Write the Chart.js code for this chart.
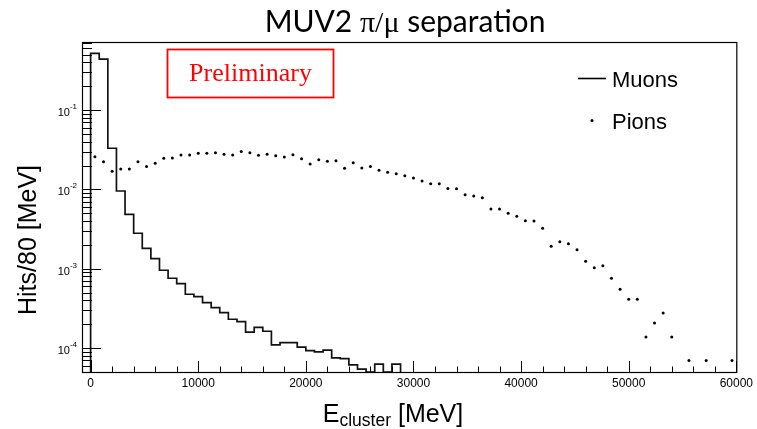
<!DOCTYPE html>
<html>
<head>
<meta charset="utf-8">
<script src="https://cdn.jsdelivr.net/npm/chart.js@4.4.0/dist/chart.umd.min.js"></script>
<style>
  body { margin: 0; background: #fff; }
  canvas { display: block; }
</style>
</head>
<body>
<canvas id="muv2" width="757" height="429"></canvas>
<script>
// 800 MeV bins, first bin starts at 0
const binWidth = 800;
const xMin = -800, xMax = 60000;
const yMin = 5e-5, yMax = 0.72;

const xTicks = [0, 10000, 20000, 30000, 40000, 50000, 60000];
const yDecades = [-4, -3, -2, -1];

// muon energy histogram (empty bins = 0)
const muonHits = [
  0.518, 0.438, 0.0330, 0.00955, 0.00485, 0.00280, 0.00181, 0.00134, 0.000957, 0.000759,
  0.000649, 0.000477, 0.000446, 0.000374, 0.000324, 0.000280, 0.000231, 0.000216, 0.000159, 0.000183,
  0.000163, 0.000110, 0.000117, 0.000117, 0.000103, 0.0000931, 0.0000896, 0.0000941, 0.0000753, 0.0000738,
  0.0000614, 0.0000542, 0, 0.0000627, 0, 0.0000627
];

// pion energy histogram, drawn as markers (null = empty bin)
const pionHits = [
  0.0258, 0.0223, 0.0169, 0.0181, 0.0181, 0.0223, 0.0195, 0.0213, 0.0246, 0.0248,
  0.0271, 0.0271, 0.0285, 0.0285, 0.0290, 0.0277, 0.0271, 0.0300, 0.0289, 0.0270,
  0.0277, 0.0266, 0.0256, 0.0274, 0.0244, 0.0209, 0.0237, 0.0226, 0.0230, 0.0185,
  0.0217, 0.0186, 0.0195, 0.0174, 0.0164, 0.0158, 0.0149, 0.0139, 0.0128, 0.0118,
  0.0118, 0.0103, 0.0102, 0.00857, 0.00826, 0.00786, 0.00567, 0.00567, 0.00500, 0.00458,
  0.00404, 0.00400, 0.00324, 0.00192, 0.00219, 0.00207, 0.00173, 0.00124, 0.00103, 0.00109,
  0.000759, 0.000551, 0.000413, 0.000413, 0.000138, 0.000207, 0.000277, 0.000138, null, 0.0000697,
  null, 0.0000697, null, null, 0.0000697
];

// histogram outline: left edge of each bin, empty bins sit on the floor
const muonPoints = [{ x: 0, y: yMin }];
muonHits.forEach((v, i) => muonPoints.push({ x: i * binWidth, y: v > 0 ? v : yMin }));
muonPoints.push({ x: muonHits.length * binWidth, y: yMin });

const pionPoints = [];
pionHits.forEach((v, i) => {
  if (v !== null) pionPoints.push({ x: i * binWidth + binWidth / 2, y: v });
});

const sans = '"Liberation Sans", Arial, sans-serif';
const serif = '"Liberation Serif", "Times New Roman", serif';

// frame, inward ticks, y labels, titles, legend and the stamp
const rootStyle = {
  id: 'rootStyle',
  afterDatasetsDraw(chart) {
    const { ctx, chartArea: a, scales: { x, y } } = chart;
    ctx.save();

    ctx.strokeStyle = '#000';
    ctx.lineWidth = 1.2;
    ctx.strokeRect(a.left + 0.5, a.top + 0.5, a.right - a.left, a.bottom - a.top);

    ctx.lineWidth = 1;
    ctx.beginPath();
    for (let v = 0; v <= xMax; v += 2000) {
      const px = Math.round(x.getPixelForValue(v)) + 0.5;
      const len = v % 10000 === 0 ? 11 : 5.5;
      ctx.moveTo(px, a.bottom);
      ctx.lineTo(px, a.bottom - len);
    }
    for (let e = -5; e <= 0; e++) {
      for (let m = 1; m <= 9; m++) {
        const v = m * Math.pow(10, e);
        if (v < yMin * 0.999 || v > yMax) continue;
        const py = Math.round(y.getPixelForValue(v)) + 0.5;
        ctx.moveTo(a.left, py);
        ctx.lineTo(a.left + (m === 1 ? 19 : 10), py);
      }
    }
    ctx.stroke();

    // y tick labels 10^n
    ctx.fillStyle = '#000';
    ctx.textBaseline = 'alphabetic';
    yDecades.forEach(e => {
      const py = y.getPixelForValue(Math.pow(10, e));
      const exp = String(e);
      ctx.font = '8px ' + sans;
      const ew = ctx.measureText(exp).width;
      ctx.textAlign = 'right';
      ctx.fillText(exp, 77, py - 1);
      ctx.font = '11px ' + sans;
      ctx.fillText('10', 77 - ew, py + 6);
    });

    // title
    const parts = [
      ['MUV2 ', '30px Lato, sans-serif'],
      ['\u03c0/\u03bc', '30px ' + serif],
      [' separation', '30px Lato, sans-serif']
    ];
    let total = 0;
    parts.forEach(p => { ctx.font = p[1]; total += ctx.measureText(p[0]).width; });
    let tx = 405 - total / 2;
    ctx.textAlign = 'left';
    parts.forEach(p => {
      ctx.font = p[1];
      ctx.fillText(p[0], tx, 32);
      tx += ctx.measureText(p[0]).width;
    });

    // x axis title with subscript
    const big = '25px ' + sans, small = '17.5px ' + sans;
    ctx.font = big;
    const wE = ctx.measureText('E').width;
    const wU = ctx.measureText(' [MeV]').width;
    ctx.font = small;
    const wS = ctx.measureText('cluster').width;
    let ex = 393 - (wE + wS + wU) / 2;
    ctx.font = big;
    ctx.fillText('E', ex, 422);
    ctx.font = small;
    ctx.fillText('cluster', ex + wE, 426);
    ctx.font = big;
    ctx.fillText(' [MeV]', ex + wE + wS, 422);

    // y axis title
    ctx.save();
    ctx.translate(36, 240);
    ctx.rotate(-Math.PI / 2);
    ctx.textAlign = 'center';
    ctx.font = big;
    ctx.fillText('Hits/80 [MeV]', 0, 0);
    ctx.restore();

    // legend
    ctx.lineWidth = 1.6;
    ctx.beginPath();
    ctx.moveTo(578, 78.5);
    ctx.lineTo(606, 78.5);
    ctx.stroke();
    ctx.beginPath();
    ctx.arc(592, 120.5, 1.5, 0, Math.PI * 2);
    ctx.fill();
    ctx.font = '22px ' + sans;
    ctx.textAlign = 'left';
    ctx.fillText('Muons', 612, 87);
    ctx.fillText('Pions', 612, 128.5);

    // preliminary stamp
    ctx.strokeStyle = '#f00';
    ctx.fillStyle = '#f00';
    ctx.lineWidth = 1.8;
    ctx.strokeRect(167.5, 49.5, 166, 48);
    ctx.font = '26px ' + serif;
    ctx.textAlign = 'center';
    ctx.fillText('Preliminary', 250.5, 81);

    ctx.restore();
  }
};

new Chart(document.getElementById('muv2'), {
  type: 'scatter',
  data: {
    datasets: [{
      type: 'line',
      label: 'Muons',
      data: muonPoints,
      stepped: true,
      borderColor: '#111',
      borderWidth: 1.7,
      pointRadius: 0,
      fill: false
    }, {
      label: 'Pions',
      data: pionPoints,
      backgroundColor: '#000',
      borderWidth: 0,
      pointRadius: 1.5
    }]
  },
  options: {
    responsive: false,
    animation: false,
    layout: { padding: { top: 42, right: 17, left: 0, bottom: 0 } },
    plugins: { legend: { display: false }, title: { display: false }, tooltip: { enabled: false } },
    scales: {
      x: {
        type: 'linear',
        min: xMin,
        max: xMax,
        afterFit: s => { s.height = 57; },
        afterBuildTicks: s => { s.ticks = xTicks.map(v => ({ value: v })); },
        grid: { display: false, drawTicks: false },
        border: { display: false },
        ticks: {
          padding: 4,
          color: '#000',
          font: { family: sans, size: 12 },
          maxRotation: 0,
          autoSkip: false,
          callback: v => String(v)
        }
      },
      y: {
        type: 'logarithmic',
        min: yMin,
        max: yMax,
        afterFit: s => { s.width = 82; },
        grid: { display: false, drawTicks: false },
        border: { display: false },
        ticks: { display: false }
      }
    }
  },
  plugins: [rootStyle]
});
</script>
</body>
</html>
